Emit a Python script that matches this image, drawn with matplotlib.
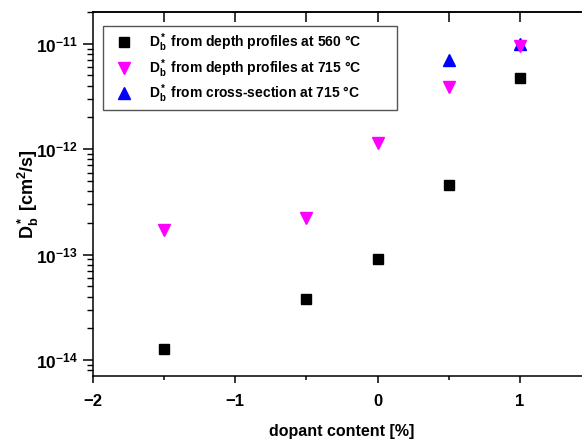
import numpy as np
import matplotlib
matplotlib.use('Agg')
import matplotlib.pyplot as plt
from matplotlib.ticker import FixedLocator, FuncFormatter, NullFormatter

plt.rcParams['font.family'] = 'Liberation Sans'
plt.rcParams['font.weight'] = 'bold'
plt.rcParams['mathtext.fontset'] = 'custom'
plt.rcParams['mathtext.rm'] = 'Liberation Sans:bold'
plt.rcParams['mathtext.bf'] = 'Liberation Sans:bold'
plt.rcParams['mathtext.it'] = 'Liberation Sans:bold'

# data
x_560 = [-1.5, -0.5, 0.0, 0.5, 1.0]
d_560 = [1.27e-14, 3.8e-14, 9.0e-14, 4.58e-13, 4.72e-12]

x_715 = [-1.5, -0.5, 0.0, 0.5, 1.0]
d_715 = [1.71e-13, 2.24e-13, 1.14e-12, 3.85e-12, 9.57e-12]

x_cs = [0.5, 1.0]
d_cs = [7.05e-12, 9.9e-12]

labels = [r'$\mathbf{D_b^*}$ from depth profiles at 560 °C',
          r'$\mathbf{D_b^*}$ from depth profiles at 715 °C',
          r'$\mathbf{D_b^*}$ from cross-section at 715 °C']

fig = plt.figure(figsize=(5.82, 4.45), dpi=100)
ax = fig.add_axes([93 / 582, 69 / 445, 498 / 582, 364 / 445])

ax.plot(x_560, d_560, 's', color='black', markersize=6.5, label=labels[0], zorder=3)
ax.plot(x_715, d_715, 'v', color='#ff00ff', markersize=8.5, label=labels[1], zorder=3)
ax.plot(x_cs, d_cs, '^', color='#0000ff', markersize=8.5, label=labels[2], zorder=2)

ax.set_yscale('log')
ax.set_xlim(-2, 1.5)
ax.set_ylim(7.05e-15, 2.0e-11)

for s in ax.spines.values():
    s.set_linewidth(1.1)
ax.spines['right'].set_visible(False)

# bottom ticks
ax.xaxis.set_major_locator(FixedLocator([-2, -1, 0, 1]))
ax.xaxis.set_minor_locator(FixedLocator([-1.5, -0.5, 0.5]))
ax.tick_params(axis='x', which='major', direction='out', length=5, width=1.1,
               labelsize=12, pad=8, top=False)
ax.tick_params(axis='x', which='minor', direction='out', length=3, width=1.1, top=False)

# top ticks, inward
top = ax.secondary_xaxis('top')
top.set_xticks([-1.5, -1.0, -0.5, 0.0, 0.5, 1.0])
top.tick_params(direction='in', length=7, width=1.1, labeltop=False)
top.spines['top'].set_linewidth(1.1)

# y ticks
decades = [1e-14, 1e-13, 1e-12, 1e-11]
minors = [m * d for d in [1e-15] + decades for m in range(2, 10)]
minors = [v for v in minors if 7.05e-15 <= v <= 2.0e-11]
ax.yaxis.set_major_locator(FixedLocator(decades))
ax.yaxis.set_minor_locator(FixedLocator(minors))
ax.yaxis.set_minor_formatter(NullFormatter())
ax.yaxis.set_major_formatter(FuncFormatter(
    lambda v, p: r'$\mathbf{10^{%d}}$' % int(round(np.log10(v)))))
ax.tick_params(axis='y', which='major', direction='out', length=7, width=1.1,
               labelsize=12.5, pad=4, right=False)
ax.tick_params(axis='y', which='minor', direction='out', length=4, width=1.0, right=False)

ax.set_xlabel('dopant content [%]', fontsize=11.5, fontweight='bold', labelpad=11)
ax.set_ylabel(r'$\mathbf{D_b^*}$ [cm$\mathbf{^2}$/s]', fontsize=13, fontweight='bold')
ax.yaxis.set_label_coords(-0.105, 0.5)

leg = ax.legend(loc='upper left', bbox_to_anchor=(0.02, 0.9615 - 0.225, 0.590, 0.225),
                mode='expand', borderaxespad=0,
                fancybox=False, framealpha=1, edgecolor='#555555', fontsize=10,
                handletextpad=0.7, borderpad=0.4, labelspacing=0.2, handlelength=2.2)
leg.get_frame().set_linewidth(1.0)

fig.savefig('out.png', dpi=100)
plt.close()
